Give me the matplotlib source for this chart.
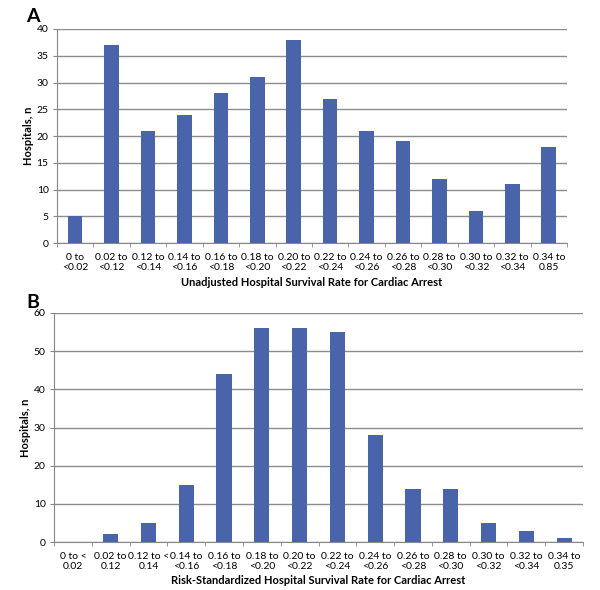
import matplotlib
matplotlib.use("Agg")
import matplotlib.pyplot as plt

cats_a = ["0 to\n<0.02", "0.02 to\n<0.12", "0.12 to\n<0.14", "0.14 to\n<0.16", "0.16 to\n<0.18",
          "0.18 to\n<0.20", "0.20 to\n<0.22", "0.22 to\n<0.24", "0.24 to\n<0.26", "0.26 to\n<0.28",
          "0.28 to\n<0.30", "0.30 to\n<0.32", "0.32 to\n<0.34", "0.34 to\n0.85"]
vals_a = [5, 37, 21, 24, 28, 31, 38, 27, 21, 19, 12, 6, 11, 18]

cats_b = ["0 to <\n0.02", "0.02 to\n0.12", "0.12 to <\n0.14", "0.14 to\n<0.16", "0.16 to\n<0.18",
          "0.18 to\n<0.20", "0.20 to\n<0.22", "0.22 to\n<0.24", "0.24 to\n<0.26", "0.26 to\n<0.28",
          "0.28 to\n<0.30", "0.30 to\n<0.32", "0.32 to\n<0.34", "0.34 to\n0.35"]
vals_b = [0, 2, 5, 15, 44, 56, 56, 55, 28, 14, 14, 5, 3, 1]

plt.rcParams['font.family'] = ['Lato', 'DejaVu Sans']
color = '#4A64AC'

fig = plt.figure(figsize=(6.0, 5.9), dpi=100)
W, H = 600, 590

def panel(rect, cats, vals, ymax, ystep, xlabel, letter, letter_xy, xlabel_y):
    l, t, r, b = rect
    ax = fig.add_axes([l / W, 1 - b / H, (r - l) / W, (b - t) / H])
    x = list(range(len(cats)))
    ax.bar(x, vals, width=0.4, color=color, zorder=3)
    ax.set_xlim(-0.5, len(cats) - 0.5)
    ax.set_ylim(0, ymax)
    ax.set_yticks(list(range(0, ymax + 1, ystep)))
    ax.set_xticks(x)
    ax.set_xticklabels(cats, fontsize=7.5, linespacing=1.15)
    ax.set_xticks([i - 0.5 for i in range(len(cats) + 1)], minor=True)
    ax.tick_params(axis='x', which='major', length=0, pad=7)
    ax.tick_params(axis='x', which='minor', length=3, color='#888888')
    ax.tick_params(axis='y', length=3, color='#888888', labelsize=7.5, pad=3)
    ax.yaxis.grid(True, color='#8c8c8c', linewidth=1.0, zorder=0)
    for s in ['top', 'right']:
        ax.spines[s].set_visible(False)
    ax.spines['left'].set_color('#888888')
    ax.spines['bottom'].set_color('#888888')
    ax.set_ylabel("Hospitals, n", fontsize=8, fontweight='bold', labelpad=2)
    fig.text((l + r) / 2 / W, 1 - xlabel_y / H, xlabel, fontsize=8, fontweight='bold',
             ha='center', va='center')
    fig.text(letter_xy[0] / W, 1 - letter_xy[1] / H, letter, fontsize=14, fontweight='bold',
             ha='left', va='center')
    return ax

panel((57, 29, 567, 243), cats_a, vals_a, 40, 5,
      "Unadjusted Hospital Survival Rate for Cardiac Arrest", "A", (26, 17), 283)
panel((54, 313, 583, 542), cats_b, vals_b, 60, 10,
      "Risk-Standardized Hospital Survival Rate for Cardiac Arrest", "B", (26, 302), 580)

fig.savefig("out.png", dpi=100)
